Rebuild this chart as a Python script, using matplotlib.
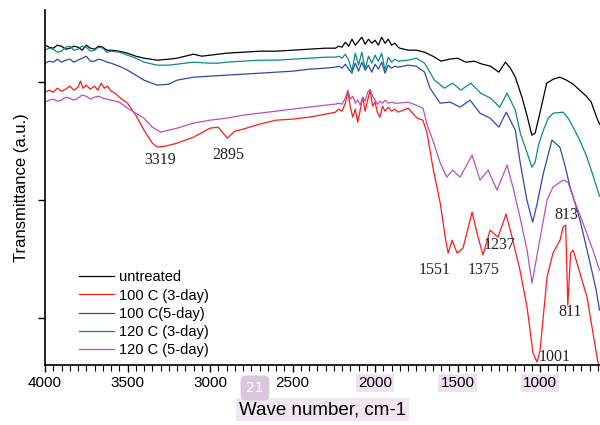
import numpy as np
import matplotlib
matplotlib.use('Agg')
from matplotlib import pyplot as plt
from matplotlib.ticker import MultipleLocator

# FTIR spectra: (wave number, transmittance in arbitrary units)

untreated = [(4000, 32.0), (3975, 31.8), (3950, 31.7), (3925, 32.0), (3900, 31.9), (3875, 31.6),
             (3850, 31.7), (3825, 31.9), (3800, 31.8), (3775, 31.5), (3750, 32.0), (3725, 31.7),
             (3700, 31.6), (3675, 31.9), (3650, 31.8), (3625, 31.5), (3600, 31.5), (3550, 31.4),
             (3500, 31.2), (3450, 30.9), (3400, 30.7), (3319, 30.5), (3250, 30.6), (3200, 30.7),
             (3150, 30.9), (3100, 31.1), (3050, 30.9), (3000, 31.0), (2950, 31.1), (2900, 31.2),
             (2800, 31.3), (2700, 31.4), (2600, 31.4), (2500, 31.5), (2400, 31.6), (2300, 31.7),
             (2240, 31.7), (2220, 31.9), (2200, 31.8), (2180, 32.3), (2160, 31.9), (2140, 32.6),
             (2120, 32.0), (2100, 32.4), (2080, 32.8), (2060, 32.1), (2040, 32.6), (2020, 32.2),
             (2000, 32.5), (1980, 32.0), (1960, 32.8), (1940, 32.2), (1920, 32.6), (1900, 32.0),
             (1880, 32.2), (1860, 31.8), (1850, 31.7), (1800, 31.5), (1750, 31.5), (1700, 31.3),
             (1650, 30.9), (1600, 30.4), (1550, 30.6), (1500, 30.7), (1450, 30.3), (1400, 30.4),
             (1350, 30.1), (1300, 29.9), (1250, 29.3), (1210, 30.3), (1180, 29.7), (1150, 28.8),
             (1110, 26.8), (1080, 25.0), (1050, 23.0), (1030, 23.2), (1000, 25.3), (960, 28.2),
             (920, 28.6), (880, 28.8), (840, 28.5), (800, 28.1), (760, 27.5), (720, 26.9),
             (690, 26.3), (660, 24.9), (640, 24.1)]

c100_3day = [(4000, 27.3), (3975, 27.5), (3950, 27.3), (3925, 27.7), (3900, 27.4), (3875, 27.6),
             (3850, 27.9), (3825, 27.5), (3800, 27.8), (3785, 28.4), (3770, 27.7), (3750, 28.0),
             (3725, 27.6), (3700, 27.9), (3680, 27.5), (3660, 28.2), (3640, 27.7), (3620, 27.9),
             (3600, 27.4), (3575, 27.2), (3550, 26.8), (3500, 26.2), (3450, 25.0), (3400, 23.5),
             (3350, 22.2), (3319, 21.8), (3270, 21.9), (3200, 22.2), (3100, 22.8), (3000, 23.7),
             (2950, 23.8), (2895, 22.7), (2850, 23.4), (2800, 23.6), (2700, 24.1), (2600, 24.5),
             (2500, 24.6), (2400, 24.8), (2300, 25.1), (2240, 25.3), (2220, 25.6), (2200, 25.4),
             (2180, 26.2), (2165, 27.4), (2150, 25.8), (2135, 24.8), (2120, 25.6), (2105, 24.3),
             (2090, 25.5), (2075, 26.8), (2060, 25.4), (2045, 26.5), (2030, 27.5), (2015, 25.9),
             (2000, 26.3), (1985, 25.2), (1970, 24.8), (1955, 25.9), (1940, 25.4), (1920, 25.8),
             (1900, 25.4), (1880, 25.6), (1860, 25.3), (1800, 25.7), (1745, 24.7), (1710, 24.5),
             (1685, 23.2), (1650, 19.8), (1605, 16.2), (1575, 12.8), (1557, 11.2), (1533, 12.5),
             (1503, 11.2), (1467, 11.7), (1412, 15.3), (1376, 12.8), (1346, 11.0), (1303, 13.5),
             (1255, 12.8), (1206, 15.1), (1170, 12.8), (1122, 9.5), (1079, 5.8), (1043, 1.2),
             (1018, 0.3), (1000, 1.5), (958, 8.8), (922, 11.2), (879, 12.5), (861, 13.8),
             (845, 14.0), (832, 6.0), (815, 11.2), (800, 11.5), (776, 10.2), (716, 6.8),
             (655, 0.8), (640, -0.5)]

c100_5day = [(4000, 30.2), (3975, 30.4), (3950, 30.3), (3925, 30.6), (3900, 30.3), (3875, 30.5),
             (3850, 30.6), (3825, 30.3), (3800, 30.5), (3775, 30.7), (3750, 30.9), (3725, 30.4),
             (3700, 30.4), (3675, 30.6), (3650, 30.5), (3625, 30.3), (3600, 30.2), (3550, 29.9),
             (3500, 29.5), (3450, 29.0), (3400, 28.5), (3319, 28.0), (3250, 28.1), (3200, 28.5),
             (3100, 28.8), (3000, 28.9), (2900, 29.0), (2800, 29.1), (2700, 29.2), (2600, 29.3),
             (2500, 29.4), (2400, 29.6), (2300, 29.7), (2240, 29.8), (2220, 29.9), (2200, 29.7),
             (2180, 30.1), (2160, 29.6), (2140, 29.2), (2120, 30.2), (2100, 29.4), (2080, 30.3),
             (2060, 29.5), (2040, 30.0), (2020, 29.3), (2000, 30.1), (1980, 29.6), (1960, 30.3),
             (1940, 29.2), (1920, 30.0), (1900, 29.7), (1880, 29.9), (1860, 29.8), (1800, 30.0),
             (1750, 29.9), (1700, 29.3), (1667, 27.7), (1606, 26.2), (1545, 26.3), (1485, 25.8),
             (1424, 26.5), (1364, 25.2), (1303, 24.7), (1250, 23.8), (1205, 25.3), (1150, 23.5),
             (1120, 20.2), (1080, 16.5), (1045, 14.3), (1020, 16.0), (980, 19.2), (928, 22.5),
             (880, 21.8), (850, 20.0), (818, 17.8), (758, 14.5), (697, 10.2), (660, 7.5),
             (640, 5.5)]

c120_3day = [(4000, 31.5), (3975, 31.7), (3950, 31.6), (3925, 31.3), (3900, 31.4), (3875, 31.8),
             (3850, 31.9), (3825, 31.5), (3800, 31.6), (3775, 31.9), (3750, 31.8), (3725, 31.4),
             (3700, 31.5), (3675, 31.8), (3650, 31.7), (3625, 31.3), (3600, 31.4), (3550, 31.3),
             (3500, 31.0), (3450, 30.7), (3400, 30.3), (3319, 30.0), (3250, 30.0), (3200, 30.1),
             (3100, 30.3), (3000, 30.2), (2950, 30.2), (2900, 30.3), (2800, 30.4), (2700, 30.5),
             (2600, 30.5), (2500, 30.6), (2400, 30.7), (2300, 30.8), (2240, 30.8), (2220, 30.9),
             (2200, 30.7), (2180, 31.1), (2160, 30.5), (2140, 29.4), (2120, 31.2), (2100, 30.0),
             (2080, 31.3), (2060, 29.6), (2040, 30.9), (2020, 30.2), (2000, 31.0), (1980, 30.4),
             (1960, 31.2), (1940, 29.5), (1920, 30.8), (1900, 30.3), (1880, 30.6), (1860, 30.4),
             (1800, 30.5), (1750, 30.7), (1700, 30.2), (1640, 28.5), (1580, 27.7), (1530, 28.2),
             (1480, 27.5), (1420, 28.2), (1360, 27.2), (1300, 26.7), (1245, 25.8), (1200, 27.2),
             (1150, 25.5), (1120, 23.2), (1080, 21.3), (1050, 19.8), (1030, 20.3), (1010, 22.0),
             (980, 23.5), (950, 24.7), (920, 25.2), (860, 25.3), (830, 24.7), (800, 23.8),
             (760, 22.5), (716, 20.8), (680, 19.0), (640, 16.9)]

c120_5day = [(4000, 26.3), (3975, 26.5), (3950, 26.6), (3925, 26.4), (3900, 26.5), (3875, 26.8),
             (3850, 26.7), (3825, 26.5), (3800, 26.7), (3775, 27.0), (3750, 26.9), (3725, 26.6),
             (3700, 26.8), (3675, 26.9), (3650, 26.7), (3625, 26.6), (3600, 26.5), (3550, 26.3),
             (3500, 25.7), (3450, 25.2), (3400, 24.7), (3350, 23.8), (3300, 23.3), (3250, 23.5),
             (3200, 23.7), (3100, 24.2), (3000, 24.5), (2900, 24.7), (2800, 25.0), (2700, 25.2),
             (2600, 25.4), (2500, 25.6), (2400, 25.8), (2300, 26.0), (2240, 26.1), (2220, 26.2),
             (2200, 26.1), (2180, 26.7), (2165, 27.5), (2150, 26.6), (2135, 26.9), (2120, 26.2),
             (2105, 26.5), (2090, 26.0), (2075, 26.8), (2060, 26.4), (2045, 27.3), (2030, 27.6),
             (2015, 26.9), (2000, 26.5), (1985, 26.1), (1970, 26.4), (1955, 26.2), (1940, 26.5),
             (1920, 26.2), (1900, 26.3), (1880, 26.2), (1860, 26.2), (1800, 26.3), (1750, 26.0),
             (1710, 25.7), (1680, 23.8), (1650, 22.5), (1605, 20.2), (1565, 18.8), (1530, 19.5),
             (1485, 18.8), (1412, 21.0), (1364, 18.5), (1315, 19.5), (1261, 17.5), (1200, 20.0),
             (1160, 17.5), (1122, 14.8), (1079, 11.5), (1049, 8.2), (1013, 11.5), (958, 16.5),
             (922, 17.8), (861, 18.5), (831, 18.3), (800, 16.8), (740, 14.2), (680, 11.5),
             (640, 9.5)]

series = [
    (untreated, 'untreated', 'black'),
    (c100_3day, '100 C (3-day)', '#ff1a1a'),
    (c100_5day, '100 C(5-day)', '#2b4aae'),
    (c120_3day, '120 C (3-day)', '#0a8a86'),
    (c120_5day, '120 C (5-day)', '#c04cbc'),
]

peak_labels = ['3319', '2895', '1551', '1375', '1237', '813', '811', '1001']
peak_x = [3303, 2891, 1637, 1340, 1243, 843, 818, 909]
peak_y = [20.5, 21.0, 9.5, 9.5, 12.0, 15.0, 5.3, 0.8]

xtick_vals = [4000, 3500, 3000, 2500, 2000, 1500, 1000]
highlighted = ['2000', '1500', '1000']

sans = ['Liberation Sans', 'DejaVu Sans']

fig = plt.figure(figsize=(6, 4.25), dpi=100)
ax = fig.add_axes([0.075, 0.141, 0.925, 0.835])

for pts, lab, col in series:
    wn, t = zip(*pts)
    ax.plot(wn, t, color=col, lw=0.9, label=lab)

ax.set_xlim(4000, 637)
ax.set_ylim(0, 35.5)

ax.spines['top'].set_visible(False)
ax.spines['right'].set_visible(False)
ax.spines['left'].set_linewidth(1.2)
ax.spines['bottom'].set_linewidth(1.2)

ax.set_yticks([4.7, 16.5, 28.3])
ax.set_yticklabels([])
ax.tick_params(axis='y', direction='out', length=5, width=1)

ax.set_xticks(xtick_vals)
ax.set_xticklabels([str(v) for v in xtick_vals], family=sans, fontsize=11)
ax.xaxis.set_minor_locator(MultipleLocator(50))
ax.tick_params(axis='x', which='major', direction='out', length=5, width=1, pad=3)
ax.tick_params(axis='x', which='minor', direction='out', length=4, width=0.8)
for lbl in ax.get_xticklabels():
    if lbl.get_text() in highlighted:
        lbl.set_bbox(dict(facecolor='#efe1f0', edgecolor='none', pad=1.5))

ax.set_xlabel('Wave number, cm-1', family=sans, fontsize=13.5, labelpad=8,
              bbox=dict(facecolor='#f1e5f2', edgecolor='none', pad=2))
ax.set_ylabel('Transmittance (a.u.)', family=sans, fontsize=12, labelpad=3)

for s, px, py in zip(peak_labels, peak_x, peak_y):
    ax.text(px, py, s, ha='center', va='center', fontsize=11.5,
            family=['Liberation Serif', 'DejaVu Serif'], color='#222222')

leg = ax.legend(loc='upper left', bbox_to_anchor=(0.05, 0.283), frameon=False,
                prop={'family': sans, 'size': 10.5}, handlelength=2.4,
                handletextpad=0.4, labelspacing=0.28, borderaxespad=0)

fig.text(0.425, 0.087, '21', color='white', fontsize=10, ha='center', va='center',
         bbox=dict(boxstyle='round,pad=0.4', facecolor='#dcc3e0', edgecolor='none'))

plt.savefig('out.png', dpi=100)
